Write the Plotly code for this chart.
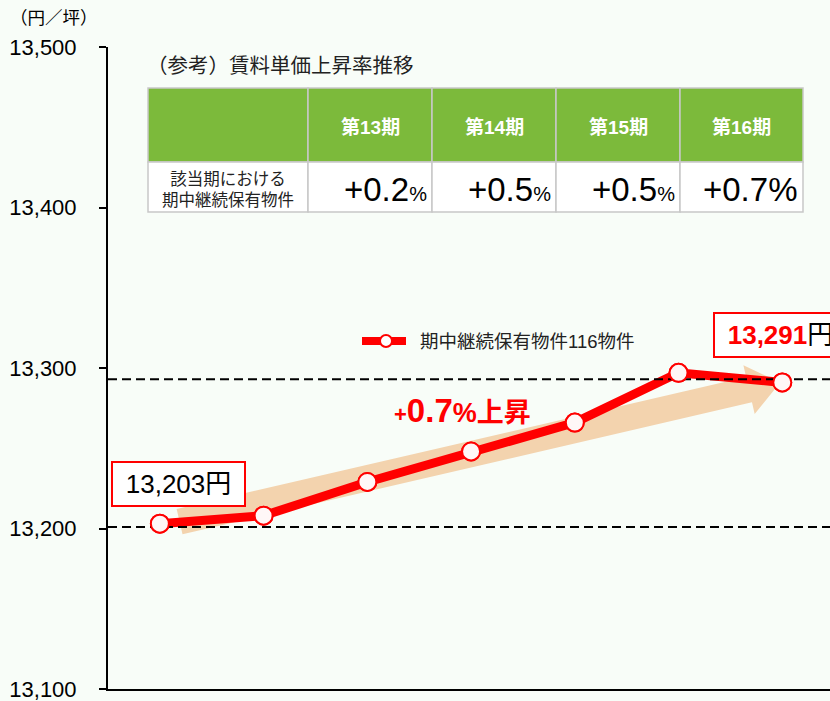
import math
import plotly.graph_objects as go

# ---------------- data ----------------
values = [13203, 13208, 13229, 13248, 13266, 13297, 13291]
ref_levels = [13201, 13293]          # dashed reference lines
y_ticks = [13100, 13200, 13300, 13400, 13500]
unit_label = "（円／坪）"
series_name = "期中継続保有物件116物件"

table_title = "（参考）賃料単価上昇率推移"
table_row_label = "該当期における<br>期中継続保有物件"
table_periods = ["第13期", "第14期", "第15期", "第16期"]
table_rates = ["+0.2", "+0.5", "+0.5", "+0.7"]

# ---------------- styles / layout constants ----------------
W, H = 830, 701
L, R, T, B = 108, 830, 47, 689
X_RANGE = [-0.5, 6.46]
Y_RANGE = [13100, 13500]
BG = "#F8FDF8"
RED = "#FF0000"
ARROW_COLOR = "#F3D3AE"
GREEN = "#7CBA3B"
BORDER = "#C8C8C8"
FONT = "Arial, 'Liberation Sans', 'Noto Sans CJK JP', sans-serif"

x_idx = list(range(len(values)))


def pxx(px):
    return (px - L) / (R - L)


def pxy(py):
    return (B - py) / (B - T)


def d2px(x):
    return L + (x - X_RANGE[0]) / (X_RANGE[1] - X_RANGE[0]) * (R - L)


def v2py(v):
    return B - (v - Y_RANGE[0]) / (Y_RANGE[1] - Y_RANGE[0]) * (B - T)


def px2d(px):
    return X_RANGE[0] + (px - L) / (R - L) * (X_RANGE[1] - X_RANGE[0])


def py2v(py):
    return Y_RANGE[0] + (B - py) / (B - T) * (Y_RANGE[1] - Y_RANGE[0])


marker_style = dict(size=18, color="#FFF7F7", line=dict(color=RED, width=2))

fig = go.Figure()
fig.add_trace(go.Scatter(
    x=x_idx, y=values, mode="lines+markers", name=series_name,
    line=dict(color=RED, width=9), marker=marker_style,
    showlegend=False, cliponaxis=False,
))
for v in ref_levels:
    fig.add_trace(go.Scatter(
        x=X_RANGE, y=[v, v], mode="lines", showlegend=False, hoverinfo="skip",
        line=dict(color="black", width=2, dash="9px,5px"),
    ))
fig.add_trace(go.Scatter(
    x=x_idx, y=values, mode="markers", showlegend=False, name=series_name,
    marker=marker_style, cliponaxis=False,
))

shapes = []

# ---- trend arrow (decoration) from first to last value ----
sx, sy = d2px(0.19), v2py(values[0]) - 2
tx, ty = d2px(5.98), v2py(values[-1])
dx, dy = tx - sx, ty - sy
ln = math.hypot(dx, dy)
ux, uy = dx / ln, dy / ln
nx, ny = -uy, ux
h_body, h_head, head_len = 13, 25, 32
bx, by = tx - head_len * ux, ty - head_len * uy
pts = [
    (sx + nx * h_body, sy + ny * h_body),
    (bx + nx * h_body, by + ny * h_body),
    (bx + nx * h_head, by + ny * h_head),
    (tx, ty),
    (bx - nx * h_head, by - ny * h_head),
    (bx - nx * h_body, by - ny * h_body),
    (sx - nx * h_body, sy - ny * h_body),
]
path = "M " + " L ".join(f"{px2d(a):.4f},{py2v(b):.3f}" for a, b in pts) + " Z"
shapes.append(dict(type="path", path=path, xref="x", yref="y",
                   fillcolor=ARROW_COLOR, line=dict(width=0), layer="below"))

# ---- legend (drawn as a key: line + circle + label) ----
leg_x0, leg_x1, leg_y, leg_r = 362, 406, 341, 6
shapes.append(dict(type="line", xref="paper", yref="paper",
                   x0=pxx(leg_x0), x1=pxx(leg_x1), y0=pxy(leg_y), y1=pxy(leg_y),
                   line=dict(color=RED, width=8), layer="above"))
shapes.append(dict(type="circle", xref="paper", yref="paper",
                   x0=pxx(386 - leg_r), x1=pxx(386 + leg_r),
                   y0=pxy(leg_y + leg_r), y1=pxy(leg_y - leg_r),
                   fillcolor="white", line=dict(color=RED, width=2), layer="above"))

# ---- reference table ----
col_edges = [148, 308, 432, 556, 680, 803]
row_edges = [88, 162, 212]
for r in range(2):
    for c in range(len(col_edges) - 1):
        shapes.append(dict(
            type="rect", xref="paper", yref="paper",
            x0=pxx(col_edges[c]), x1=pxx(col_edges[c + 1]),
            y0=pxy(row_edges[r + 1]), y1=pxy(row_edges[r]),
            fillcolor=GREEN if r == 0 else "white",
            line=dict(color=BORDER, width=1.5), layer="above",
        ))

annotations = []
annotations.append(dict(
    x=pxx(418), y=pxy(leg_y), xref="paper", yref="paper", xanchor="left", yanchor="middle",
    text=series_name, showarrow=False, font=dict(size=18.5, color="#222222", family=FONT),
))
annotations.append(dict(
    x=pxx(145), y=pxy(66), xref="paper", yref="paper", xanchor="left", yanchor="middle",
    text=table_title, showarrow=False, font=dict(size=20.5, color="#222222", family=FONT),
))
annotations.append(dict(
    x=pxx((col_edges[0] + col_edges[1]) / 2), y=pxy(189), xref="paper", yref="paper",
    xanchor="center", yanchor="middle", text=table_row_label, showarrow=False,
    font=dict(size=16.5, color="#222222", family=FONT),
))
pct_sizes = [20, 20, 20, 33]
for i, (p, rate) in enumerate(zip(table_periods, table_rates)):
    cx = (col_edges[i + 1] + col_edges[i + 2]) / 2
    annotations.append(dict(
        x=pxx(cx), y=pxy(128), xref="paper", yref="paper", xanchor="center", yanchor="middle",
        text=f"<b>{p}</b>", showarrow=False, font=dict(size=19, color="white", family=FONT),
    ))
    annotations.append(dict(
        x=pxx(col_edges[i + 2] - 3), y=pxy(189), xref="paper", yref="paper",
        xanchor="right", yanchor="middle",
        text=f"{rate}<span style='font-size:{pct_sizes[i]}px'>%</span>", showarrow=False,
        font=dict(size=33, color="black", family=FONT),
    ))

annotations.append(dict(
    x=pxx(8), y=pxy(18), xref="paper", yref="paper", xanchor="left", yanchor="middle",
    text=unit_label, showarrow=False, font=dict(size=17.5, color="black", family=FONT),
))

annotations.append(dict(
    x=x_idx[0], y=values[0], xref="x", yref="y", xshift=19, yshift=40,
    xanchor="center", yanchor="middle", showarrow=False,
    text=f"{values[0]:,}円", font=dict(size=26, color="black", family=FONT),
    bgcolor="white", bordercolor=RED, borderwidth=2, borderpad=2, width=127, height=38,
))
annotations.append(dict(
    x=x_idx[-1], y=values[-1], xref="x", yref="y", xshift=-2, yshift=47,
    xanchor="center", yanchor="middle", showarrow=False,
    text=f"<b><span style='color:{RED}'>{values[-1]:,}</span></b>円",
    font=dict(size=26, color="black", family=FONT),
    bgcolor="white", bordercolor=RED, borderwidth=2, borderpad=2, width=127, height=38,
))

annotations.append(dict(
    x=pxx(462), y=pxy(410), xref="paper", yref="paper", xanchor="center", yanchor="middle",
    showarrow=False,
    text=("<b><span style='font-size:22px'>+</span>0.7"
          "<span style='font-size:27px'>%上昇</span></b>"),
    font=dict(size=33, color=RED, family=FONT),
))

fig.update_layout(
    width=W, height=H,
    margin=dict(l=L, r=W - R, t=T, b=H - B, pad=0),
    paper_bgcolor=BG, plot_bgcolor=BG,
    font=dict(family=FONT, color="black"),
    shapes=shapes, annotations=annotations,
    showlegend=False,
    xaxis=dict(range=X_RANGE, showline=True, linewidth=2, linecolor="black",
               showticklabels=False, ticks="", showgrid=False, zeroline=False, fixedrange=True),
    yaxis=dict(range=Y_RANGE, tickvals=y_ticks, tickformat=",", showline=True,
               linewidth=2, linecolor="black", ticks="outside", ticklen=7, tickwidth=2,
               tickcolor="black", showgrid=False, zeroline=False, ticklabelstandoff=18,
               ticklabeloverflow="allow",
               tickfont=dict(size=22, color="black", family=FONT)),
)

fig.write_html(
    "out.html",
    config={"displayModeBar": False},
    post_script="document.body.style.margin='0';document.body.style.background='%s';" % BG,
)
